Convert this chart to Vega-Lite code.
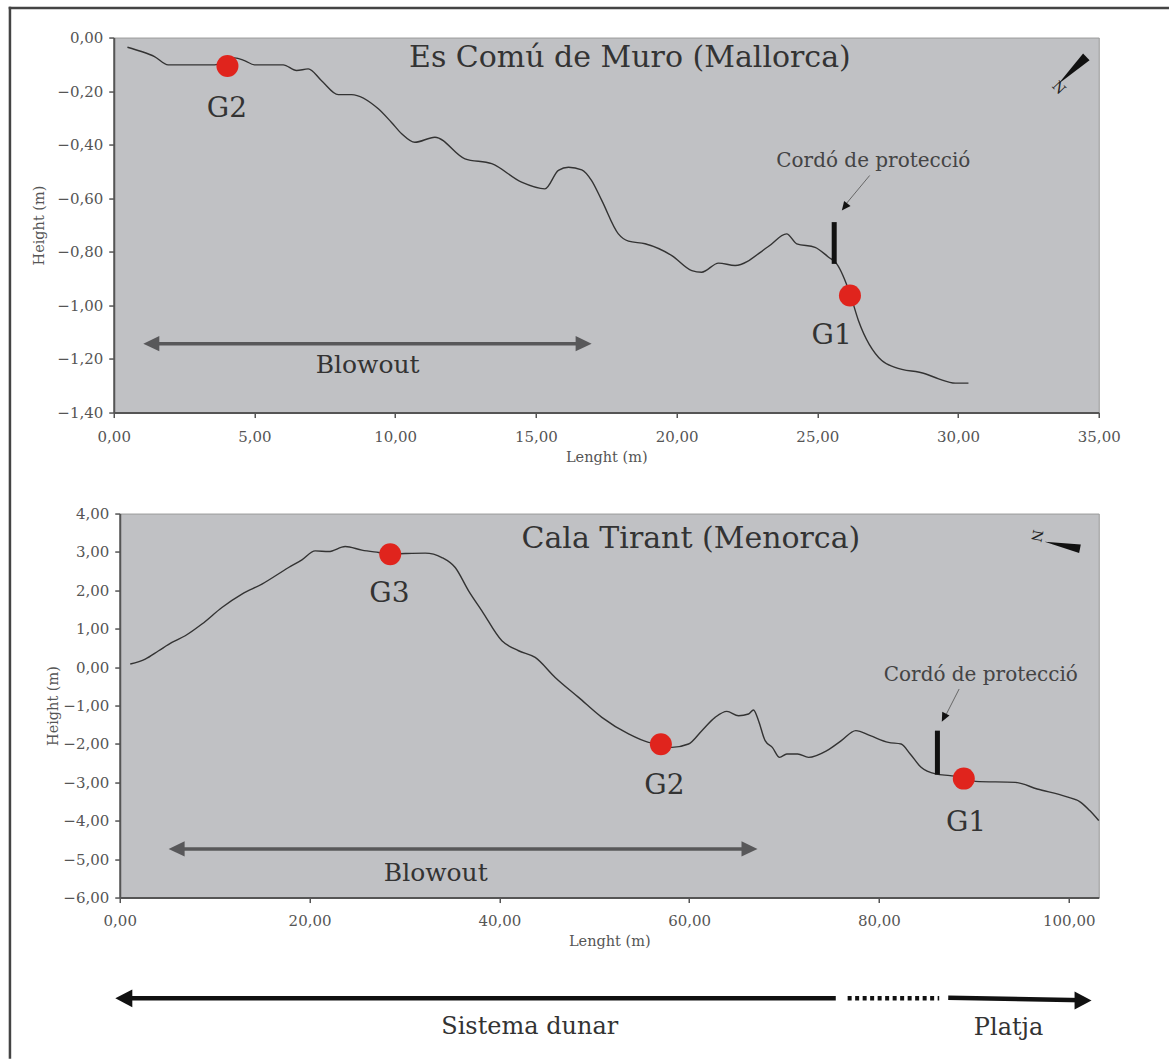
{
  "$schema": "https://vega.github.io/schema/vega-lite/v6.json",
  "background": "white",
  "padding": {"left": 6.75, "top": 5.55, "right": 0, "bottom": 0},
  "autosize": {"type": "pad"},
  "config": {
    "font": "DejaVu Serif",
    "view": {"fill": "#c0c1c4", "stroke": "#9a9a9a", "strokeWidth": 1},
    "axis": {
      "labelFont": "DejaVu Serif", "titleFont": "DejaVu Serif",
      "labelFontSize": 15, "titleFontSize": 14.5, "titleFontWeight": "normal",
      "labelColor": "#555", "titleColor": "#555",
      "domainColor": "#555", "domainWidth": 2,
      "tickColor": "#555", "tickWidth": 1.5, "tickSize": 5, "grid": false
    }
  },
  "datasets": {
    "muro": [
      {"len":0.487,"h":-0.036},{"len":0.985,"h":-0.052},{"len":1.447,"h":-0.071},{"len":1.934,"h":-0.102},
      {"len":3.58,"h":-0.102},{"len":4.29,"h":-0.076},{"len":4.646,"h":-0.086},{"len":5.0,"h":-0.102},
      {"len":6.02,"h":-0.102},{"len":6.495,"h":-0.123},{"len":6.911,"h":-0.117},{"len":7.384,"h":-0.161},
      {"len":7.977,"h":-0.213},{"len":8.45,"h":-0.213},{"len":9.40,"h":-0.266},{"len":9.87,"h":-0.317},
      {"len":10.23,"h":-0.359},{"len":10.70,"h":-0.391},{"len":11.41,"h":-0.372},{"len":12.48,"h":-0.453},
      {"len":13.43,"h":-0.471},{"len":14.49,"h":-0.540},{"len":15.32,"h":-0.565},{"len":15.80,"h":-0.496},
      {"len":16.16,"h":-0.484},{"len":16.63,"h":-0.494},{"len":16.98,"h":-0.534},{"len":17.34,"h":-0.608},
      {"len":17.93,"h":-0.733},{"len":18.29,"h":-0.760},{"len":18.88,"h":-0.770},{"len":19.83,"h":-0.814},
      {"len":20.54,"h":-0.870},{"len":20.89,"h":-0.876},{"len":21.49,"h":-0.842},{"len":22.08,"h":-0.851},
      {"len":23.26,"h":-0.780},{"len":23.91,"h":-0.733},{"len":24.27,"h":-0.770},{"len":24.92,"h":-0.783},
      {"len":25.40,"h":-0.820},{"len":25.69,"h":-0.845},{"len":26.16,"h":-0.956},{"len":26.46,"h":-1.056},
      {"len":27.29,"h":-1.206},{"len":27.76,"h":-1.231},{"len":28.83,"h":-1.255},{"len":29.31,"h":-1.274},
      {"len":29.90,"h":-1.290},{"len":30.37,"h":-1.290}
    ],
    "tirant": [
      {"len":1.106,"h":0.081},{"len":2.687,"h":0.211},{"len":4.098,"h":0.427},{"len":5.499,"h":0.643},
      {"len":6.901,"h":0.818},{"len":8.66,"h":1.122},{"len":10.767,"h":1.554},{"len":12.874,"h":1.903},
      {"len":14.981,"h":2.163},{"len":17.794,"h":2.595},{"len":19.195,"h":2.795},{"len":20.596,"h":3.029},
      {"len":22.008,"h":3.011},{"len":23.757,"h":3.141},{"len":25.516,"h":3.048},{"len":27.276,"h":2.985},
      {"len":28.498,"h":2.944},{"len":30.078,"h":2.959},{"len":32.185,"h":2.970},{"len":33.944,"h":2.855},
      {"len":35.346,"h":2.595},{"len":36.757,"h":1.989},{"len":38.159,"h":1.468},{"len":40.266,"h":0.687},
      {"len":42.025,"h":0.427},{"len":43.774,"h":0.253},{"len":45.881,"h":-0.268},{"len":48.346,"h":-0.788},
      {"len":50.801,"h":-1.308},{"len":53.614,"h":-1.740},{"len":55.721,"h":-1.959},{"len":57.017,"h":-2.001},
      {"len":58.175,"h":-2.089},{"len":59.935,"h":-2.001},{"len":61.336,"h":-1.654},{"len":62.737,"h":-1.308},
      {"len":63.970,"h":-1.152},{"len":65.202,"h":-1.264},{"len":66.256,"h":-1.220},{"len":66.783,"h":-1.116},
      {"len":67.309,"h":-1.394},{"len":68.005,"h":-1.915},{"len":68.763,"h":-2.089},{"len":69.532,"h":-2.349},
      {"len":70.291,"h":-2.261},{"len":71.439,"h":-2.261},{"len":72.588,"h":-2.349},{"len":74.505,"h":-2.175},
      {"len":76.033,"h":-1.915},{"len":77.560,"h":-1.654},{"len":79.088,"h":-1.785},{"len":80.995,"h":-1.959},
      {"len":82.333,"h":-2.001},{"len":83.292,"h":-2.261},{"len":84.440,"h":-2.609},{"len":85.967,"h":-2.781},
      {"len":87.495,"h":-2.825},{"len":89.022,"h":-2.877},{"len":90.171,"h":-2.974},{"len":94.374,"h":-3.000},
      {"len":96.671,"h":-3.172},{"len":99.726,"h":-3.372},{"len":101.264,"h":-3.520},{"len":102.212,"h":-3.736},
      {"len":103.16,"h":-3.996}
    ]
  },
  "bounds": "flush",
  "spacing": 101,
  "vconcat": [
    {
      "width": 985,
      "height": 375,
      "encoding": {
        "x": {"field": "len", "type": "quantitative",
          "scale": {"domain": [0, 35], "nice": false, "zero": false},
          "axis": {"title": "Lenght (m)", "values": [0,5,10,15,20,25,30,35],
            "labelExpr": "replace(format(datum.value, '.2f'), '.', ',')",
            "labelFlush": false, "labelOverlap": false, "labelPadding": 12, "titlePadding": 6}},
        "y": {"field": "h", "type": "quantitative",
          "scale": {"domain": [-1.4, 0], "nice": false, "zero": false},
          "axis": {"title": "Height (m)", "values": [0,-0.2,-0.4,-0.6,-0.8,-1,-1.2,-1.4],
            "labelExpr": "replace(format(datum.value, '.2f'), '.', ',')",
            "labelOverlap": false, "labelPadding": 6, "titlePadding": 10}}
      },
      "layer": [
        {"data": {"name": "muro"}, "mark": {"type": "line", "color": "#333", "strokeWidth": 1.4, "interpolate": "monotone"}},
        {"data": {"values": [{"len": 1.3, "h": -1.143}, {"len": 16.7, "h": -1.143}]},
          "mark": {"type": "line", "color": "#58585a", "strokeWidth": 3.5}},
        {"data": {"values": [{"len": 1.05, "h": -1.143}]},
          "mark": {"type": "point", "shape": "M0,0L2,-0.95L2,0.95Z", "size": 256, "filled": true, "color": "#58585a", "opacity": 1}},
        {"data": {"values": [{"len": 16.98, "h": -1.143}]},
          "mark": {"type": "point", "shape": "M0,0L-2,-0.95L-2,0.95Z", "size": 256, "filled": true, "color": "#58585a", "opacity": 1}},
        {"data": {"values": [{"len": 25.6, "h": -0.689, "h2": -0.845}]},
          "mark": {"type": "rule", "color": "#111", "strokeWidth": 5},
          "encoding": {"y2": {"field": "h2"}}},
        {"data": {"values": [{"len": 26.86, "h": -0.515, "len2": 26.03, "h2": -0.620}]},
          "mark": {"type": "rule", "color": "#666", "strokeWidth": 1},
          "encoding": {"x2": {"field": "len2"}, "y2": {"field": "h2"}}},
        {"data": {"values": [{"len": 25.87, "h": -0.646}]},
          "mark": {"type": "point", "shape": "M0,0L-0.9,2L0.9,2Z", "size": 81, "angle": 218, "filled": true, "color": "#111", "opacity": 1}},
        {"data": {"values": [{"len": 4.04, "h": -0.106}, {"len": 26.16, "h": -0.963}]},
          "mark": {"type": "point", "shape": "circle", "size": 484, "filled": true, "color": "#e0241d", "opacity": 1}},
        {"data": {"values": [{"len": 34.06, "h": -0.123}]},
          "mark": {"type": "point", "shape": "M0,1L-0.24,-1L0.24,-1Z", "size": 1521, "angle": 46, "filled": true, "color": "#111", "opacity": 1}},
        {"data": {"values": [{"len": 33.57, "h": -0.1885, "text": "N"}]},
          "mark": {"type": "text", "fontSize": 14, "angle": 46, "align": "center", "baseline": "middle", "color": "#222"},
          "encoding": {"text": {"field": "text"}}},
        {"data": {"values": [{"len": 18.34, "h": -0.111, "text": "Es Comú de Muro (Mallorca)"}]},
          "mark": {"type": "text", "fontSize": 30, "align": "center", "baseline": "alphabetic", "color": "#333"},
          "encoding": {"text": {"field": "text"}}},
        {"data": {"values": [{"len": 4.02, "h": -0.2975, "text": "G2"}, {"len": 25.51, "h": -1.143, "text": "G1"}]},
          "mark": {"type": "text", "fontSize": 28, "align": "center", "baseline": "alphabetic", "color": "#333"},
          "encoding": {"text": {"field": "text"}}},
        {"data": {"values": [{"len": 9.02, "h": -1.254, "text": "Blowout"}]},
          "mark": {"type": "text", "fontSize": 25, "align": "center", "baseline": "alphabetic", "color": "#333"},
          "encoding": {"text": {"field": "text"}}},
        {"data": {"values": [{"len": 26.99, "h": -0.484, "text": "Cordó de protecció"}]},
          "mark": {"type": "text", "fontSize": 20, "align": "center", "baseline": "alphabetic", "color": "#444"},
          "encoding": {"text": {"field": "text"}}}
      ]
    },
    {
      "bounds": "flush",
      "spacing": 0,
      "hconcat": [
        {
          "width": 5.5, "height": 1,
          "view": {"fill": null, "stroke": null},
          "data": {"values": [{}]},
          "mark": {"type": "point", "opacity": 0}
        },
        {
          "width": 979,
          "height": 384,
          "encoding": {
            "x": {"field": "len", "type": "quantitative",
              "scale": {"domain": [0, 103.16], "nice": false, "zero": false},
              "axis": {"title": "Lenght (m)", "values": [0,20,40,60,80,100],
                "labelExpr": "replace(format(datum.value, '.2f'), '.', ',')",
                "labelFlush": false, "labelOverlap": false, "labelPadding": 11, "titlePadding": 6}},
            "y": {"field": "h", "type": "quantitative",
              "scale": {"domain": [-6, 4], "nice": false, "zero": false},
              "axis": {"title": "Height (m)", "values": [4,3,2,1,0,-1,-2,-3,-4,-5,-6],
                "labelExpr": "replace(format(datum.value, '.2f'), '.', ',')",
                "labelOverlap": false, "labelPadding": 6, "titlePadding": 2}}
          },
          "layer": [
            {"data": {"name": "tirant"}, "mark": {"type": "line", "color": "#333", "strokeWidth": 1.4, "interpolate": "monotone"}},
            {"data": {"values": [{"len": 6.0, "h": -4.733}, {"len": 66.4, "h": -4.733}]},
              "mark": {"type": "line", "color": "#58585a", "strokeWidth": 3.5}},
            {"data": {"values": [{"len": 5.15, "h": -4.733}]},
              "mark": {"type": "point", "shape": "M0,0L2,-0.95L2,0.95Z", "size": 256, "filled": true, "color": "#58585a", "opacity": 1}},
            {"data": {"values": [{"len": 67.2, "h": -4.733}]},
              "mark": {"type": "point", "shape": "M0,0L-2,-0.95L-2,0.95Z", "size": 256, "filled": true, "color": "#58585a", "opacity": 1}},
            {"data": {"values": [{"len": 86.16, "h": -1.654, "h2": -2.8}]},
              "mark": {"type": "rule", "color": "#111", "strokeWidth": 5},
              "encoding": {"y2": {"field": "h2"}}},
            {"data": {"values": [{"len": 88.45, "h": -0.569, "len2": 87.11, "h2": -1.219}]},
              "mark": {"type": "rule", "color": "#666", "strokeWidth": 1},
              "encoding": {"x2": {"field": "len2"}, "y2": {"field": "h2"}}},
            {"data": {"values": [{"len": 86.62, "h": -1.42}]},
              "mark": {"type": "point", "shape": "M0,0L-0.9,2L0.9,2Z", "size": 81, "angle": 207, "filled": true, "color": "#111", "opacity": 1}},
            {"data": {"values": [{"len": 28.5, "h": 2.94}, {"len": 57.02, "h": -2.006}, {"len": 88.94, "h": -2.903}]},
              "mark": {"type": "point", "shape": "circle", "size": 484, "filled": true, "color": "#e0241d", "opacity": 1}},
            {"data": {"values": [{"len": 99.32, "h": 3.173}]},
              "mark": {"type": "point", "shape": "M0,1L-0.24,-1L0.24,-1Z", "size": 1296, "angle": 101, "filled": true, "color": "#111", "opacity": 1}},
            {"data": {"values": [{"len": 96.58, "h": 3.42, "text": "N"}]},
              "mark": {"type": "text", "fontSize": 14, "angle": 101, "align": "center", "baseline": "middle", "color": "#222"},
              "encoding": {"text": {"field": "text"}}},
            {"data": {"values": [{"len": 60.18, "h": 3.115, "text": "Cala Tirant (Menorca)"}]},
              "mark": {"type": "text", "fontSize": 30, "align": "center", "baseline": "alphabetic", "color": "#333"},
              "encoding": {"text": {"field": "text"}}},
            {"data": {"values": [{"len": 28.41, "h": 1.684, "text": "G3"}, {"len": 57.39, "h": -3.302, "text": "G2"}, {"len": 89.18, "h": -4.257, "text": "G1"}]},
              "mark": {"type": "text", "fontSize": 28, "align": "center", "baseline": "alphabetic", "color": "#333"},
              "encoding": {"text": {"field": "text"}}},
            {"data": {"values": [{"len": 33.3, "h": -5.56, "text": "Blowout"}]},
              "mark": {"type": "text", "fontSize": 25, "align": "center", "baseline": "alphabetic", "color": "#333"},
              "encoding": {"text": {"field": "text"}}},
            {"data": {"values": [{"len": 90.73, "h": -0.353, "text": "Cordó de protecció"}]},
              "mark": {"type": "text", "fontSize": 20, "align": "center", "baseline": "alphabetic", "color": "#444"},
              "encoding": {"text": {"field": "text"}}},
            {"data": {"values": [{"len": 0.4, "h": -8.625}, {"len": 75.45, "h": -8.625}]},
              "mark": {"type": "line", "color": "#111", "strokeWidth": 4.5}},
            {"data": {"values": [{"len": 76.7, "h": -8.625}, {"len": 86.35, "h": -8.625}]},
              "mark": {"type": "line", "color": "#111", "strokeWidth": 4.5, "strokeDash": [4, 3.5]}},
            {"data": {"values": [{"len": 87.3, "h": -8.61}, {"len": 101.6, "h": -8.675}]},
              "mark": {"type": "line", "color": "#111", "strokeWidth": 4.5}},
            {"data": {"values": [{"len": -0.47, "h": -8.625}]},
              "mark": {"type": "point", "shape": "M0,0L2,-1.05L2,1.05Z", "size": 289, "filled": true, "color": "#111", "opacity": 1}},
            {"data": {"values": [{"len": 102.4, "h": -8.68}]},
              "mark": {"type": "point", "shape": "M0,0L-2,-1.05L-2,1.05Z", "size": 289, "filled": true, "color": "#111", "opacity": 1}},
            {"data": {"values": [{"len": 43.2, "h": -9.55, "text": "Sistema dunar"}, {"len": 93.66, "h": -9.57, "text": "Platja"}]},
              "mark": {"type": "text", "fontSize": 24, "align": "center", "baseline": "alphabetic", "color": "#333"},
              "encoding": {"text": {"field": "text"}}},
            {"data": {"values": [{"len": -11.57, "len2": 110.43, "h": 17.164}]},
              "mark": {"type": "rule", "color": "#444", "strokeWidth": 2.5, "strokeCap": "square"},
              "encoding": {"x2": {"field": "len2"}}},
            {"data": {"values": [{"len": -11.57, "h": 17.164, "h2": -10.163}]},
              "mark": {"type": "rule", "color": "#444", "strokeWidth": 2.5, "strokeCap": "square"},
              "encoding": {"y2": {"field": "h2"}}}
          ]
        }
      ]
    }
  ]
}
